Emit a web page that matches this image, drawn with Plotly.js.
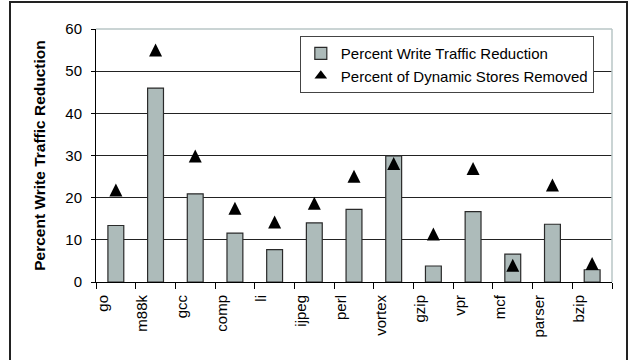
<!DOCTYPE html>
<html>
<head>
<meta charset="utf-8">
<script src="https://cdn.plot.ly/plotly-3.0.1.min.js"></script>
<style>
  html, body { margin: 0; padding: 0; background: #fff; }
  #wrap { position: relative; width: 634px; height: 360px; overflow: hidden; }
  #chart { position: absolute; left: 0; top: 0; width: 634px; height: 360px; }
  #frame {
    position: absolute; left: 9px; top: 1px; width: 619px; height: 420px;
    border: 2px solid #222; pointer-events: none; box-sizing: border-box;
  }
</style>
</head>
<body>
<div id="wrap">
  <div id="chart"></div>
  <div id="frame"></div>
</div>
<script>
// Benchmarks
const benchmarks = ['go', 'm88k', 'gcc', 'comp', 'li', 'ijpeg', 'perl', 'vortex',
                    'gzip', 'vpr', 'mcf', 'parser', 'bzip'];
// Percent write traffic reduction (bars)
const writeTrafficReduction = [13.4, 46.0, 20.9, 11.6, 7.7, 14.0, 17.2, 29.9,
                               3.8, 16.7, 6.6, 13.7, 2.9];
// Percent of dynamic stores removed (triangles)
const storesRemoved = [21.8, 55.0, 29.9, 17.5, 14.2, 18.7, 25.1, 28.1,
                       11.4, 26.9, 4.0, 23.0, 4.4];
const yTicks = [0, 10, 20, 30, 40, 50, 60];

const FONT = 'Liberation Sans, Arial, sans-serif';
const TRI = 13;
const LABEL_STORES = 'Percent of Dynamic Stores Removed';

// category boundaries for the crossing tick marks
const bounds = benchmarks.map((_, i) => i - 0.5).concat([benchmarks.length - 0.5]);
const xRange = [-0.5, benchmarks.length - 0.5];

const traces = [
  {
    type: 'bar',
    name: 'Percent Write Traffic Reduction',
    x: benchmarks,
    y: writeTrafficReduction,
    width: 0.4,
    marker: { color: '#adbbba', line: { color: '#2a2a2a', width: 1.2 } },
    hoverinfo: 'x+y'
  },
  {
    // upright triangle centred on each value
    type: 'scatter',
    mode: 'markers',
    name: LABEL_STORES,
    showlegend: false,
    x: benchmarks,
    y: storesRemoved,
    marker: {
      symbol: 'arrow-down', angle: 180, standoff: TRI / 2,
      size: TRI, color: '#000', line: { width: 0 }
    },
    hoverinfo: 'x+y'
  },
  {
    // legend key for the triangles
    type: 'scatter',
    mode: 'markers',
    name: LABEL_STORES,
    x: [null],
    y: [null],
    marker: { symbol: 'triangle-up', size: 11, color: '#000', line: { width: 0 } },
    hoverinfo: 'skip'
  }
];

const layout = {
  width: 634,
  height: 360,
  margin: { l: 96, r: 22, t: 29, b: 78 },
  paper_bgcolor: '#fff',
  plot_bgcolor: '#fff',
  font: { family: FONT, size: 15, color: '#000' },
  showlegend: true,
  legend: {
    x: 0.395, y: 0.972, xanchor: 'left', yanchor: 'top',
    bgcolor: '#fff', bordercolor: '#444', borderwidth: 1,
    font: { family: FONT, size: 15, color: '#000' },
    itemwidth: 30, traceorder: 'normal', tracegroupgap: 0
  },
  xaxis: {
    type: 'category',
    categoryorder: 'array',
    categoryarray: benchmarks,
    range: xRange,
    tickson: 'boundaries',
    ticks: 'outside', ticklen: 6, tickwidth: 1, tickcolor: '#000',
    tickangle: -90,
    ticklabelshift: -13,
    ticklabelstandoff: 6,
    tickfont: { family: FONT, size: 15, color: '#000' },
    showline: true, linecolor: '#000', linewidth: 1,
    showgrid: false, zeroline: false,
    fixedrange: true
  },
  xaxis2: {
    overlaying: 'x', anchor: 'y', type: 'linear',
    range: xRange,
    tickmode: 'array', tickvals: bounds,
    ticks: 'inside', ticklen: 5, tickwidth: 1, tickcolor: '#000',
    showticklabels: false, showline: false, showgrid: false, zeroline: false,
    side: 'bottom', fixedrange: true
  },
  yaxis: {
    range: [0, 60],
    tickmode: 'array', tickvals: yTicks,
    ticks: 'outside', ticklen: 4, tickwidth: 1, tickcolor: '#000',
    ticklabelstandoff: 6,
    tickfont: { family: FONT, size: 15, color: '#000' },
    showline: true, linecolor: '#000', linewidth: 1,
    showgrid: true, gridcolor: '#222', gridwidth: 1,
    zeroline: false,
    title: {
      text: 'Percent Write Traffic Reduction',
      font: { family: FONT, size: 15.5, color: '#000', weight: 'bold' },
      standoff: 15
    },
    fixedrange: true
  },
  shapes: [
    { type: 'line', xref: 'paper', yref: 'paper', x0: 0, x1: 1, y0: 1, y1: 1,
      line: { color: '#b9c6c6', width: 1.5 }, layer: 'above' },
    { type: 'line', xref: 'paper', yref: 'paper', x0: 1, x1: 1, y0: 0, y1: 1,
      line: { color: '#b9c6c6', width: 1.5 }, layer: 'above' }
  ]
};

Plotly.newPlot('chart', traces, layout, { displayModeBar: false, staticPlot: true });
</script>
</body>
</html>
